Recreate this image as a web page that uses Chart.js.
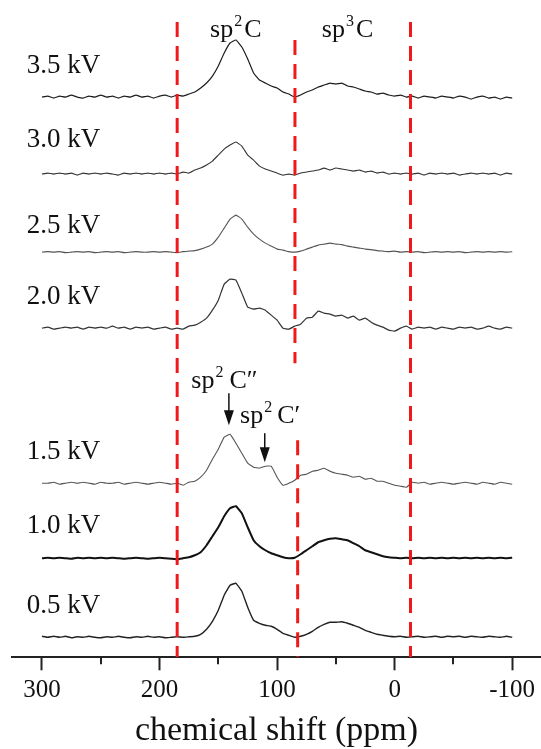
<!DOCTYPE html>
<html>
<head>
<meta charset="utf-8">
<script src="https://cdn.jsdelivr.net/npm/chart.js@4.4.1/dist/chart.umd.min.js"></script>
<style>
  html, body { margin: 0; padding: 0; background: #fff; }
  canvas { display: block; }
</style>
</head>
<body>
<canvas id="c" width="541" height="749"></canvas>
<script>
'use strict';

/* ─── Data: chemical shift axis + one spectrum per voltage ─────── */
const ppm = [
  300, 295, 290, 285, 280, 275, 270, 265, 260, 255,
  250, 245, 240, 235, 230, 225, 220, 215, 210, 205,
  200, 195, 190, 185, 180, 175, 170, 165, 160, 155,
  150, 145, 140, 135, 130, 125, 120, 115, 110, 105,
  100,  95,  90,  85,  80,  75,  70,  65,  60,  55,
   50,  45,  40,  35,  30,  25,  20,  15,  10,   5,
    0,  -5, -10, -15, -20, -25, -30, -35, -40, -45,
  -50, -55, -60, -65, -70, -75, -80, -85, -90, -95,
  -100
];

const voltages = ['3.5 kV', '3.0 kV', '2.5 kV', '2.0 kV', '1.5 kV', '1.0 kV', '0.5 kV'];

const spec35 = [
  0, 1, -1, 1, 0, 2, 0, -1, 1, 0,
  2, 0, 1, -1, 1, 0, 2, 0, 1, -1,
  1, 2, 0, 2, 1, 3, 5, 9, 14, 21,
  31, 44, 54, 57, 50, 38, 24, 17, 14, 11,
  9, 5, 3, 0, 2, 5, 7, 10, 12, 14,
  13, 14, 11, 10, 8, 6, 5, 3, 4, 2,
  1, 2, 0, 1, -1, 1, 0, -1, 1, 0,
  -1, 1, 0, -2, 0, 1, -1, 0, -2, 0,
  -1
];
const spec30 = [
  0, 1, 0, 1, 0, 1, -1, 1, 0, 1,
  0, 1, 0, -1, 1, 0, 1, 0, 1, 0,
  1, 0, 1, 0, 2, 1, 4, 6, 9, 13,
  19, 25, 29, 32, 28, 19, 14, 8, 5, 3,
  1, -1, 0, -1, 1, 2, 3, 4, 6, 4,
  6, 5, 4, 3, 4, 2, 3, 1, 2, 0,
  1, 0, 1, 0, 1, -1, 1, 0, 1, 0,
  1, -1, 0, 1, 0, 1, 0, 1, -1, 1,
  0
];
const spec25 = [
  0, 0.5, 0, 0.5, -0.5, 0, 0.5, 0, 0.5, -0.5,
  0, 0.5, 0, 0.5, -0.5, 0, 0.5, 0, 0, 0.5,
  0, 0.5, 0, -0.5, 0.5, 1, 1.5, 3, 5, 8,
  15, 24, 33, 37, 33, 25, 18, 13, 9, 6,
  3, 2, 0.5, 0, 1, 3, 5, 7, 8, 9,
  8, 7.5, 6, 5, 4, 3, 2.5, 1.5, 1, 0.5,
  1, 0, 0.5, 0, 0.5, -0.5, 0, 0.5, 0, 0.5,
  0, 0.5, -0.5, 0, 0.5, 0, 0.5, 0, 0.5, 0,
  0.5
];
const spec20 = [
  0, 1, -1, 0, 1, 0, 1, -1, 1, 0,
  1, 0, 2, 0, 1, -1, 1, 0, 1, -1,
  0, 1, -1, 0, -1, 2, 3, 6, 10, 18,
  28, 44, 49, 48, 35, 21, 19, 20, 18, 13,
  8, 0, -1, 2, 4, 10, 11, 17, 15, 14,
  12, 13, 10, 12, 8, 10, 6, 3, 1, -2,
  -3, 0, 2, -1, 1, 0, 1, -1, 1, 0,
  -1, 1, 0, 1, -1, 0, 2, 0, -1, 1,
  0
];
const spec15 = [
  0, 0, 1, -1, 0, 1, 0, 1, 0, -1,
  1, 0, 0, 1, -1, 0, 1, 0, -1, 0,
  1, 0, -1, 0, -2, 1, 2, 6, 13, 24,
  34, 46, 49, 40, 30, 20, 16, 15, 17, 17,
  6, -2, 0, 3, 8, 9, 12, 13, 15, 12,
  10, 9, 8, 6, 7, 4, 5, 2, 2, 0,
  -2, -3, -4, 1, 0, 1, -1, 0, 1, 0,
  -1, 0, 1, 0, -1, 1, 0, -1, 1, 0,
  -1
];
const spec10 = [
  0, 0.5, 0, 0.5, 0, -0.5, 0.5, 0, 0.5, 0,
  0.5, 0, 0.5, 0, -0.5, 0, 0.5, 0, -0.5, 0,
  0.5, 0, -0.5, -1, 0, 1, 3, 6, 13, 22,
  31, 42, 50, 52, 45, 31, 18, 12, 8, 5,
  3, 1, 0, 0.5, 4, 8, 12, 16, 18, 19.5,
  20, 19, 18, 15, 12, 8, 6, 4, 2, 1,
  0.5, 0, 0.5, 0, 0.5, 0, 0.5, 0, 0.5, 0,
  0.5, 0, 0.5, 0, 0.5, 0, 0.5, 0, 0.5, 0,
  0.5
];
const spec05 = [
  1, 0, 1, 0, 1, -0.5, 0.5, 0, 1, 0,
  -0.5, 0.5, 0, 1, 0, -0.5, 0.5, 0, 1, 0,
  0.5, -0.5, 0, 0.5, 0, 0.5, 1, 3, 8, 16,
  27, 42, 52, 54, 46, 30, 17, 14, 12, 11,
  8, 4, 2, 0, 1, 3, 6, 10, 13, 15,
  15, 15.5, 14, 12, 10, 7, 5, 3, 2, 1,
  0.5, 1, 0, 0.5, 1, 0, 0.5, 1, 0, 1,
  0.5, 1, 0, 1, 0.5, 0, 1, 0.5, 0, 1,
  0
];
const spectra = [spec35, spec30, spec25, spec20, spec15, spec10, spec05];

/* boundaries between the carbon regions (ppm) */
const regionBounds = [185, 84.8, 82.5, -13.5];
const xTicks = [300, 250, 200, 150, 100, 50, 0, -50, -100];

/* ─── Layout / styling (kept apart from the data) ──────────────── */
const FONT = '"Liberation Serif", "Times New Roman", serif';
const stackOffset = [560, 483, 405, 329, 174, 99, 20];
const traceStyle = [
  { color: '#1c1c1c', width: 1.2 },
  { color: '#333333', width: 1.1 },
  { color: '#555555', width: 1.1 },
  { color: '#333333', width: 1.2 },
  { color: '#555555', width: 1.1 },
  { color: '#111111', width: 2.0 },
  { color: '#222222', width: 1.4 }
];
const boundSpan = [[635, 0], [617, 294], [217, 0], [635, 0]];
const labelPlace = { ppm: 313, rise: [31, 34, 26, 31, 31, 32, 31] };
const notes = [
  { base: 'sp', sup: '2', tail: 'C',       ppm: 157,   y: 620, gap: 2 },
  { base: 'sp', sup: '3', tail: 'C',       ppm: 62,    y: 620, gap: 2 },
  { base: 'sp', sup: '2', tail: 'C\u2033', ppm: 173,   y: 269, gap: 6 },
  { base: 'sp', sup: '2', tail: 'C\u2032', ppm: 131.5, y: 234, gap: 5 }
];
const arrows = [
  { ppm: 141,   from: 264, to: 232 },
  { ppm: 110.5, from: 224, to: 195 }
];

/* ─── Datasets ─────────────────────────────────────────────────── */
const datasets = [];
regionBounds.forEach((b, i) => {
  datasets.push({
    data: [{ x: b, y: boundSpan[i][0] }, { x: b, y: boundSpan[i][1] }],
    borderColor: '#f01818', borderWidth: 3, borderDash: [15, 9],
    pointRadius: 0, tension: 0
  });
});
spectra.forEach((s, i) => {
  datasets.push({
    label: voltages[i],
    data: s.map((v, j) => ({ x: ppm[j], y: v + stackOffset[i] })),
    borderColor: traceStyle[i].color, borderWidth: traceStyle[i].width,
    pointRadius: 0, tension: 0.1
  });
});

/* ─── Overlay: voltage labels, sp annotations, arrows, minor ticks ─ */
const overlay = {
  id: 'overlay',
  afterDraw(chart) {
    const { ctx, scales: { x, y } } = chart;
    ctx.save();
    ctx.fillStyle = '#111';
    ctx.strokeStyle = '#111';

    // voltage labels
    ctx.font = '27px ' + FONT;
    ctx.textBaseline = 'middle';
    ctx.textAlign = 'left';
    voltages.forEach((t, i) => {
      ctx.fillText(t, x.getPixelForValue(labelPlace.ppm), y.getPixelForValue(stackOffset[i] + labelPlace.rise[i]));
    });

    // sp^n C annotations
    ctx.textBaseline = 'alphabetic';
    notes.forEach(n => {
      let px = x.getPixelForValue(n.ppm);
      const py = y.getPixelForValue(n.y);
      ctx.font = '26px ' + FONT;
      ctx.fillText(n.base, px, py);
      px += ctx.measureText(n.base).width + 1;
      ctx.font = '16px ' + FONT;
      ctx.fillText(n.sup, px, py - 11);
      px += ctx.measureText(n.sup).width + n.gap;
      ctx.font = '26px ' + FONT;
      ctx.fillText(n.tail, px, py);
    });

    // arrows
    arrows.forEach(a => {
      const px = x.getPixelForValue(a.ppm);
      const y0 = y.getPixelForValue(a.from), y1 = y.getPixelForValue(a.to);
      ctx.lineWidth = 1.5;
      ctx.beginPath(); ctx.moveTo(px, y0); ctx.lineTo(px, y1 - 10); ctx.stroke();
      ctx.beginPath();
      ctx.moveTo(px - 5, y1 - 15); ctx.lineTo(px + 5, y1 - 15); ctx.lineTo(px, y1);
      ctx.closePath(); ctx.fill();
    });

    // minor tick marks
    ctx.strokeStyle = '#222';
    ctx.lineWidth = 2;
    xTicks.filter(v => v % 100 !== 0).forEach(v => {
      const px = Math.round(x.getPixelForValue(v));
      ctx.beginPath(); ctx.moveTo(px, x.top); ctx.lineTo(px, x.top + 7); ctx.stroke();
    });
    ctx.restore();
  }
};

new Chart(document.getElementById('c'), {
  type: 'line',
  data: { datasets },
  options: {
    responsive: false,
    animation: false,
    layout: { padding: { left: 12, right: 0, top: 0, bottom: 0 } },
    plugins: { legend: { display: false }, tooltip: { enabled: false } },
    scales: {
      x: {
        type: 'linear', reverse: true, min: -124.5, max: 325.5,
        afterBuildTicks: s => { s.ticks = xTicks.map(v => ({ value: v })); },
        ticks: {
          autoSkip: false, maxRotation: 0, padding: 5, color: '#111',
          font: { family: FONT, size: 25 },
          callback: v => (v % 100 === 0 ? String(v) : '')
        },
        grid: {
          drawOnChartArea: false, drawTicks: true, tickLength: 13, tickWidth: 2,
          tickColor: c => (c.tick && c.tick.value % 100 === 0 ? '#222' : 'rgba(0,0,0,0)')
        },
        border: { display: true, color: '#222', width: 2 },
        title: {
          display: true, text: 'chemical shift (ppm)', color: '#111',
          font: { family: FONT, size: 34, lineHeight: 1.05 }, padding: { top: 3, bottom: 0 }
        }
      },
      y: { display: false, min: 0, max: 657 }
    }
  },
  plugins: [overlay]
});
</script>
</body>
</html>
